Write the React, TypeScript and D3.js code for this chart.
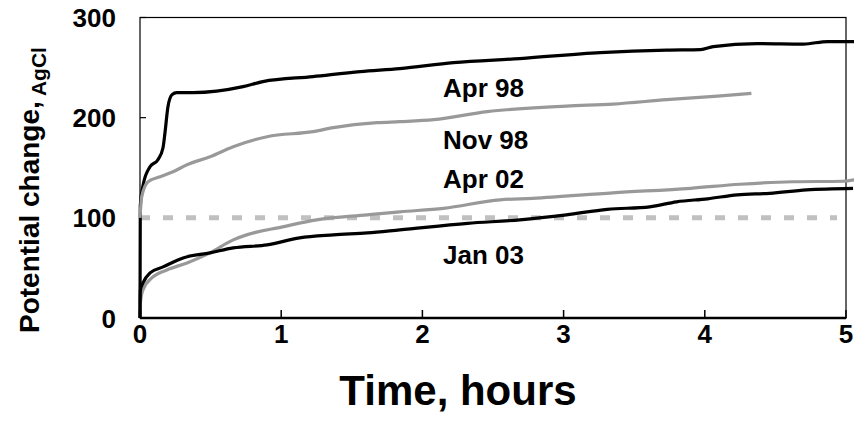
import React from "react";
import * as d3 from "d3";

// Potential change (mV vs AgCl) over time (hours) for four test dates
const apr98: [number, number][] = [
  [0, 0], [0.002, 112], [0.024, 134], [0.071, 151], [0.127, 158], [0.163, 170],
  [0.177, 185], [0.198, 211], [0.227, 223], [0.26, 225], [0.375, 225], [0.73, 231],
  [0.87, 236], [1.225, 241], [1.56, 246], [1.84, 249], [2.22, 255], [2.69, 259],
  [3.26, 265], [3.73, 267.5], [3.97, 268], [4.06, 271], [4.37, 274], [4.7, 273.5],
  [4.87, 276], [5.06, 276],
];
const nov98: [number, number][] = [
  [0, 100], [0.012, 121], [0.057, 136], [0.142, 141], [0.234, 146], [0.333, 153],
  [0.496, 161], [0.66, 171], [0.9, 181], [1.225, 186], [1.37, 190], [1.68, 195],
  [1.84, 196], [2.08, 198], [2.46, 206], [3.02, 211.6], [3.35, 213.6], [3.73, 218],
  [4.09, 221.6], [4.33, 224.3],
];
const apr02: [number, number][] = [
  [0, 8], [0.005, 18], [0.021, 28], [0.092, 41], [0.19, 48], [0.333, 55],
  [0.496, 65], [0.66, 78], [0.755, 83], [1.01, 91], [1.25, 98], [1.61, 103],
  [1.84, 106], [2.15, 109.5], [2.55, 118], [2.78, 119.5], [3.35, 125], [3.9, 129.5],
  [4.25, 133.5], [4.62, 136], [4.98, 136.5], [5.06, 138],
];
const jan03: [number, number][] = [
  [0, 0], [0.003, 28], [0.021, 35], [0.071, 45], [0.163, 51], [0.305, 60],
  [0.496, 65], [0.66, 70], [0.9, 73], [1.13, 80], [1.37, 83], [1.61, 85],
  [1.84, 88], [2.32, 94.5], [2.69, 98], [3.02, 103], [3.31, 108.5], [3.61, 111],
  [3.8, 116], [4.02, 119], [4.23, 123], [4.46, 124.5], [4.72, 128], [5.05, 129.5],
];

const thresholdValue = 100;
const xTicks = [0, 1, 2, 3, 4, 5];
const yTicks = [0, 100, 200, 300];

const seriesLabels = ["Apr 98", "Nov 98", "Apr 02", "Jan 03"];

const W = 854;
const H = 438;
const left = 140;
const right = 846;
const top = 17.5;
const bottom = 318;

const FONT = "'Liberation Sans', Arial, Helvetica, sans-serif";

export default function App() {
  const x = d3.scaleLinear().domain([0, 5]).range([left, right]);
  const y = d3.scaleLinear().domain([0, 300]).range([bottom, top]);
  const line = d3
    .line<[number, number]>()
    .x((d) => x(d[0]))
    .y((d) => y(d[1]))
    .curve(d3.curveMonotoneX);

  const series = [
    { data: apr98, color: "#000000" },
    { data: nov98, color: "#999999" },
    { data: apr02, color: "#999999" },
    { data: jan03, color: "#000000" },
  ];

  // left edge and baseline of each curve name
  const labelPos = [
    { x: 443, y: 96.5 },
    { x: 443, y: 148.5 },
    { x: 443, y: 187.5 },
    { x: 443, y: 263.5 },
  ];

  return (
    <svg
      width={W}
      height={H}
      style={{ position: "absolute", left: 0, top: 0, background: "#fff" }}
      fontFamily={FONT}
      fontWeight="bold"
    >
      <rect x={0} y={0} width={W} height={H} fill="#fff" />
      {/* plot frame */}
      <rect
        x={left}
        y={top}
        width={right - left}
        height={bottom - top}
        fill="none"
        stroke="#000"
        strokeWidth={1.2}
      />
      <line x1={left} x2={right} y1={bottom} y2={bottom} stroke="#000" strokeWidth={2.5} />

      {/* inward ticks */}
      {yTicks.map((t) => (
        <line key={"yt" + t} x1={left} x2={left + 6} y1={y(t)} y2={y(t)} stroke="#000" strokeWidth={1.2} />
      ))}
      {xTicks.map((t) => (
        <line key={"xt" + t} x1={x(t)} x2={x(t)} y1={bottom} y2={bottom - 8} stroke="#000" strokeWidth={1.5} />
      ))}

      {/* reference level */}
      <line
        x1={x(0)}
        x2={837}
        y1={y(thresholdValue)}
        y2={y(thresholdValue)}
        stroke="#c0c0c0"
        strokeWidth={5}
        strokeDasharray="10 13"
      />

      {series.map((s, i) => (
        <path
          key={i}
          d={line(s.data) || ""}
          fill="none"
          stroke={s.color}
          strokeWidth={3.2}
          strokeLinejoin="round"
        />
      ))}

      {seriesLabels.map((l, i) => (
        <text key={l} x={labelPos[i].x} y={labelPos[i].y} fontSize={26} fill="#000">
          {l}
        </text>
      ))}

      {/* tick labels */}
      {yTicks.map((t) => (
        <text key={"yl" + t} x={116} y={y(t) + 9.5} fontSize={26} textAnchor="end" fill="#000">
          {t}
        </text>
      ))}
      {xTicks.map((t) => (
        <text key={"xl" + t} x={x(t)} y={343} fontSize={26} textAnchor="middle" fill="#000">
          {t}
        </text>
      ))}

      {/* axis titles */}
      <text x={458} y={405} fontSize={42} textAnchor="middle" fill="#000">
        Time, hours
      </text>
      <text transform="translate(39,333) rotate(-90)" fontSize={28} fill="#000">
        Potential change,
        <tspan fontSize={21} dy={7}> AgCl</tspan>
      </text>
    </svg>
  );
}
